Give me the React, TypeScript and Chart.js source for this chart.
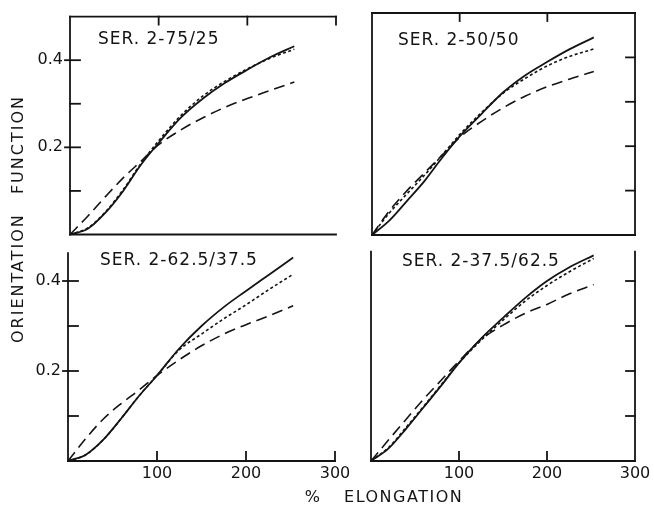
import React, { useEffect, useRef } from 'react';
import { Chart, registerables } from 'chart.js';

Chart.register(...registerables);

// ---------- data ----------
const ELONGATION = [0, 20, 40, 60, 80, 100, 125, 150, 175, 200, 225, 253];

const TITLES = ['SER. 2-75/25', 'SER. 2-50/50', 'SER. 2-62.5/37.5', 'SER. 2-37.5/62.5'];

// SER. 2-75/25
const S1_SOLID = [0, 0.013, 0.05, 0.1, 0.16, 0.21, 0.268, 0.312, 0.348, 0.378, 0.406, 0.432];
const S1_DOTTED = [0, 0.015, 0.052, 0.103, 0.163, 0.215, 0.273, 0.318, 0.352, 0.38, 0.404, 0.425];
const S1_DASHED = [0, 0.042, 0.087, 0.13, 0.168, 0.206, 0.24, 0.268, 0.292, 0.312, 0.33, 0.35];

// SER. 2-50/50
const S2_SOLID = [0, 0.033, 0.077, 0.122, 0.174, 0.222, 0.273, 0.322, 0.36, 0.39, 0.418, 0.445];
const S2_DOTTED = [0, 0.05, 0.093, 0.135, 0.18, 0.226, 0.276, 0.32, 0.353, 0.381, 0.402, 0.419];
const S2_DASHED = [0, 0.055, 0.1, 0.14, 0.18, 0.22, 0.256, 0.287, 0.313, 0.334, 0.351, 0.368];

// SER. 2-62.5/37.5
const S3_SOLID = [0, 0.014, 0.048, 0.095, 0.145, 0.19, 0.25, 0.3, 0.342, 0.378, 0.413, 0.452];
const S3_DOTTED = [0, 0.014, 0.048, 0.095, 0.145, 0.19, 0.247, 0.282, 0.316, 0.347, 0.38, 0.415];
const S3_DASHED = [0, 0.05, 0.094, 0.128, 0.158, 0.19, 0.225, 0.256, 0.282, 0.303, 0.322, 0.345];

// SER. 2-37.5/62.5
const S4_SOLID = [0, 0.028, 0.072, 0.12, 0.168, 0.218, 0.272, 0.318, 0.362, 0.4, 0.43, 0.457];
const S4_DOTTED = [0, 0.03, 0.075, 0.122, 0.17, 0.218, 0.268, 0.313, 0.355, 0.39, 0.42, 0.45];
const S4_DASHED = [0, 0.047, 0.093, 0.138, 0.18, 0.222, 0.27, 0.302, 0.328, 0.348, 0.371, 0.392];

const X_TICKS = [100, 200, 300];
const Y_TICKS = [0.1, 0.2, 0.3, 0.4];
const Y_LABELED = [0.2, 0.4];

const Y_TITLE = 'ORIENTATION FUNCTION';
const X_TITLE = '% ELONGATION';

// ---------- layout ----------
const W = 654;
const H = 506;
const FAMILY = '"DejaVu Sans", "Liberation Sans", sans-serif';
const INK = '#141414';
const Y_AXIS_W = 50;
const X_AXIS_H = 30;

type PanelCfg = {
  title: string;
  series: number[][];
  area: { l: number; t: number; r: number; b: number };
  yLabels: boolean;
  xLabels: boolean;
  topFrame: boolean;
  rightFrame: boolean;
  topTicks: number[];
  bottomTicks: number[];
  leftTicks: boolean;
  frameTop: number;
  titleX: number;
  titleY: number;
};

const PANELS: PanelCfg[] = [
  {
    title: TITLES[0],
    series: [S1_SOLID, S1_DOTTED, S1_DASHED],
    area: { l: 70, t: 12.5, r: 336, b: 234.5 },
    yLabels: true, xLabels: false, topFrame: true, rightFrame: false,
    topTicks: [100, 200, 300], bottomTicks: [], leftTicks: true,
    frameTop: 0.5, titleX: 98, titleY: 40,
  },
  {
    title: TITLES[1],
    series: [S2_SOLID, S2_DOTTED, S2_DASHED],
    area: { l: 372, t: 13, r: 635, b: 235 },
    yLabels: false, xLabels: false, topFrame: true, rightFrame: true,
    topTicks: [100, 200], bottomTicks: [], leftTicks: false,
    frameTop: 0.5, titleX: 398, titleY: 41,
  },
  {
    title: TITLES[2],
    series: [S3_SOLID, S3_DOTTED, S3_DASHED],
    area: { l: 68, t: 236, r: 335, b: 461 },
    yLabels: true, xLabels: true, topFrame: false, rightFrame: false,
    topTicks: [], bottomTicks: [100, 200, 300], leftTicks: true,
    frameTop: 0.462, titleX: 100, titleY: 261,
  },
  {
    title: TITLES[3],
    series: [S4_SOLID, S4_DOTTED, S4_DASHED],
    area: { l: 371, t: 236, r: 635, b: 461 },
    yLabels: false, xLabels: true, topFrame: false, rightFrame: true,
    topTicks: [], bottomTicks: [100, 200], leftTicks: false,
    frameTop: 0.465, titleX: 402, titleY: 262,
  },
];

const DASHES = [[], [3, 2.5], [11, 6]];

function makeFramePlugin(cfg: PanelCfg) {
  return {
    id: 'frame',
    afterDatasetsDraw(chart: any) {
      const { ctx, chartArea: a, scales } = chart;
      const x = scales.x;
      const y = scales.y;
      const line = (x1: number, y1: number, x2: number, y2: number) => {
        ctx.beginPath();
        ctx.moveTo(x1, y1);
        ctx.lineTo(x2, y2);
        ctx.stroke();
      };
      ctx.save();
      ctx.strokeStyle = INK;
      ctx.lineWidth = 1.8;
      ctx.lineCap = 'square';
      const yTop = y.getPixelForValue(cfg.frameTop);
      line(a.left, a.bottom, a.left, yTop);
      line(a.left, a.bottom, a.right, a.bottom);
      if (cfg.topFrame) line(a.left, a.top, a.right, a.top);
      if (cfg.rightFrame) {
        line(a.right, yTop, a.right, a.bottom);
        Y_TICKS.forEach((v) => {
          const py = y.getPixelForValue(v);
          line(a.right, py, a.right - 9, py);
        });
      }
      if (cfg.leftTicks) {
        Y_TICKS.forEach((v) => {
          const py = y.getPixelForValue(v);
          const out = Y_LABELED.includes(v) ? 5 : 0;
          line(a.left - out, py, a.left + 10, py);
        });
      }
      cfg.topTicks.forEach((v) => {
        const px = x.getPixelForValue(v);
        line(px, a.top, px, a.top + 8);
      });
      cfg.bottomTicks.forEach((v) => {
        const px = x.getPixelForValue(v);
        line(px, a.bottom, px, a.bottom - 9);
      });
      ctx.fillStyle = INK;
      ctx.font = `17px ${FAMILY}`;
      (ctx as any).letterSpacing = '1px';
      ctx.textAlign = 'left';
      ctx.textBaseline = 'middle';
      ctx.fillText(cfg.title, cfg.titleX, cfg.titleY);
      ctx.restore();
    },
  };
}

function Panel({ cfg }: { cfg: PanelCfg }) {
  const ref = useRef<HTMLCanvasElement>(null);
  useEffect(() => {
    const canvas = ref.current;
    if (!canvas) return;
    const datasets = cfg.series.map((vals, i) => ({
      data: vals.map((v, k) => ({ x: ELONGATION[k], y: v })),
      borderColor: INK,
      borderWidth: i === 0 ? 1.8 : 1.6,
      borderDash: DASHES[i],
      pointRadius: 0,
      fill: false,
      cubicInterpolationMode: 'monotone' as const,
      clip: false as any,
    }));
    const yW = cfg.yLabels ? Y_AXIS_W : 0;
    const xH = cfg.xLabels ? X_AXIS_H : 0;
    const chart = new Chart(canvas, {
      type: 'line',
      data: { datasets },
      plugins: [makeFramePlugin(cfg)],
      options: {
        animation: false,
        responsive: false,
        devicePixelRatio: 1,
        events: [],
        layout: {
          padding: {
            left: cfg.area.l - yW,
            top: cfg.area.t,
            right: W - cfg.area.r,
            bottom: H - cfg.area.b - xH,
          },
        },
        plugins: { legend: { display: false }, tooltip: { enabled: false }, title: { display: false } },
        scales: {
          x: {
            type: 'linear',
            min: 0,
            max: 300,
            display: cfg.xLabels,
            grid: { display: false, drawTicks: false },
            border: { display: false },
            ticks: {
              stepSize: 100,
              autoSkip: false,
              maxRotation: 0,
              padding: 3,
              color: INK,
              font: { family: FAMILY, size: 16 },
              callback: (v: any) => (X_TICKS.includes(Number(v)) ? String(v) : ''),
            },
            afterFit: (s: any) => { s.height = xH; },
          },
          y: {
            type: 'linear',
            min: 0,
            max: 0.5,
            display: cfg.yLabels,
            grid: { display: false, drawTicks: false },
            border: { display: false },
            ticks: {
              stepSize: 0.1,
              autoSkip: false,
              padding: 7,
              color: INK,
              font: { family: FAMILY, size: 16 },
              callback: (v: any) => {
                const r = Math.round(Number(v) * 10) / 10;
                return Y_LABELED.includes(r) ? r.toFixed(1) : '';
              },
            },
            afterFit: (s: any) => { s.width = yW; },
          },
        },
      } as any,
    });
    return () => chart.destroy();
  }, [cfg]);
  return (
    <canvas
      ref={ref}
      width={W}
      height={H}
      style={{ position: 'absolute', left: 0, top: 0, width: W, height: H }}
    />
  );
}

export default function App() {
  return (
    <div
      style={{
        position: 'absolute',
        left: 0,
        top: 0,
        width: W,
        height: H,
        background: '#fff',
        overflow: 'hidden',
      }}
    >
      {PANELS.map((p, i) => (
        <Panel key={i} cfg={p} />
      ))}
      <div
        style={{
          position: 'absolute',
          left: 18,
          top: 219,
          transform: 'translate(-50%, -50%) rotate(-90deg)',
          whiteSpace: 'nowrap',
          fontFamily: FAMILY,
          fontSize: 16,
          letterSpacing: '2px',
          wordSpacing: '12px',
          color: INK,
          lineHeight: 1,
        }}
      >
        {Y_TITLE}
      </div>
      <div
        style={{
          position: 'absolute',
          left: 384,
          top: 497,
          transform: 'translate(-50%, -50%)',
          whiteSpace: 'nowrap',
          fontFamily: FAMILY,
          fontSize: 16,
          letterSpacing: '1.5px',
          wordSpacing: '16px',
          color: INK,
          lineHeight: 1,
        }}
      >
        {X_TITLE}
      </div>
    </div>
  );
}
